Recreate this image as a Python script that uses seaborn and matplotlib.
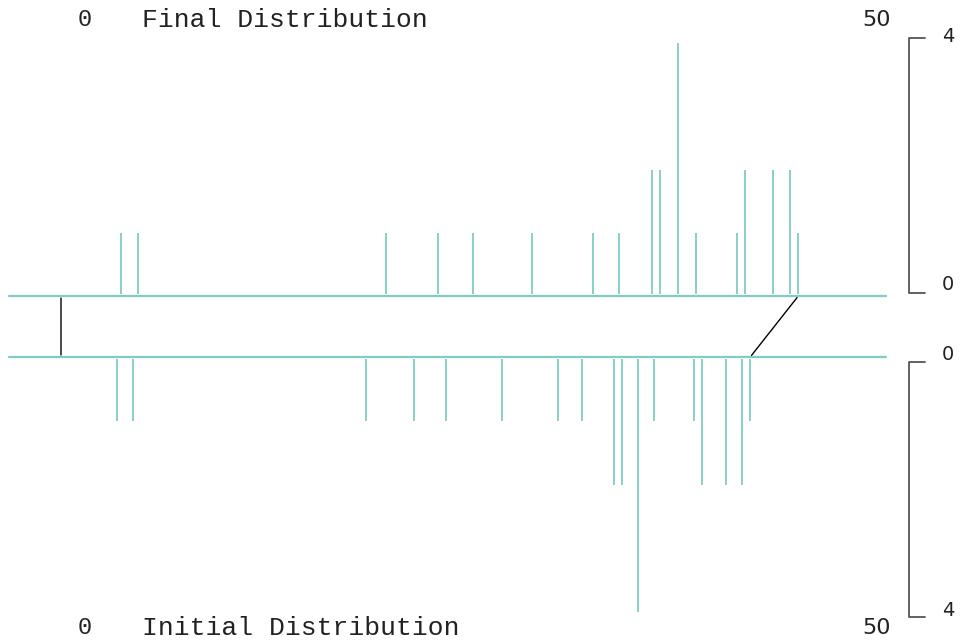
import matplotlib
matplotlib.use("Agg")
import matplotlib.pyplot as plt
from matplotlib.patches import ConnectionPatch
import seaborn as sns
import pandas as pd

# ---- data ----
initial_values = [3.5, 4.5, 19, 22, 24, 27.5, 31, 32.5, 34.5, 35, 36, 37, 39.5, 40, 41.5, 42.5, 43]
initial_counts = [1, 1, 1, 1, 1, 1, 1, 1, 2, 2, 4, 1, 1, 2, 2, 2, 1]
final_values = [3.75, 4.8, 20.3, 23.5, 25.7, 29.4, 33.2, 34.8, 36.9, 37.4, 38.5, 39.6, 42.2, 42.7, 44.4, 45.5, 46]
final_counts = [1, 1, 1, 1, 1, 1, 1, 1, 2, 2, 4, 1, 1, 2, 2, 2, 1]
x_labels = ["0", "50"]
y_labels = ["0", "4"]
titles = ["Final Distribution", "Initial Distribution"]

df_final = pd.DataFrame({"value": final_values, "count": final_counts})
df_init = pd.DataFrame({"value": initial_values, "count": initial_counts})

sns.set_theme(style="white")
plt.rcParams["font.family"] = ["DejaVu Sans"]

TEAL = "#80cbc4"
W, H = 962, 641
fig = plt.figure(figsize=(W / 100, H / 100), dpi=100)

XMIN, XMAX = -3.244, 51.47
left = 9 / W
width = (886 - 9) / W

ax_top = fig.add_axes([left, 1 - 296 / H, width, (296 - 43) / H])
ax_bot = fig.add_axes([left, 1 - 612 / H, width, (612 - 357) / H])

for ax, df, inv in ((ax_top, df_final, False), (ax_bot, df_init, True)):
    ax.set_xlim(XMIN, XMAX)
    if inv:
        ax.set_ylim(4, 0)
    else:
        ax.set_ylim(0, 4)
    ax.vlines(df["value"], 0.03, df["count"], color=TEAL, lw=1.3)
    ax.axhline(0, color=TEAL, lw=1.6, clip_on=False)
    ax.set_axis_off()
    sns.despine(ax=ax, left=True, bottom=True)

# connecting lines (0 -> 0, max -> max)
for xa, xb in ((0, 0), (max(final_values), max(initial_values))):
    con = ConnectionPatch(xyA=(xa, 0), coordsA=ax_top.transData,
                          xyB=(xb, 0), coordsB=ax_bot.transData,
                          color="black", lw=1.0, shrinkA=1.5, shrinkB=1.5)
    fig.add_artist(con)

# overlay for labels and brackets (pixel coordinates)
ov = fig.add_axes([0, 0, 1, 1], facecolor="none")
ov.set_xlim(0, W)
ov.set_ylim(H, 0)
ov.set_axis_off()

mono = ["Liberation Mono", "DejaVu Sans Mono"]
for ty, title in ((20, titles[0]), (628, titles[1])):
    ov.text(85, ty, x_labels[0], family=mono, fontsize=17, ha="center", va="center", color="#222222")
    ov.text(142, ty, title, family=mono, fontsize=19, ha="left", va="center", color="#222222")
    ov.text(877, ty, x_labels[1], family=["DejaVu Sans"], fontsize=16, ha="center", va="center", color="#222222")

GRAY = "#555555"
# top bracket
ov.plot([925, 909, 909, 925], [38, 38, 293, 293], color=GRAY, lw=1.3)
ov.text(948, 36, y_labels[1], fontsize=14, ha="center", va="center", color="#222222")
ov.text(948, 285, y_labels[0], fontsize=14, ha="center", va="center", color="#222222")
# bottom bracket
ov.plot([925, 909, 909, 925], [362, 362, 617, 617], color=GRAY, lw=1.3)
ov.text(948, 355, y_labels[0], fontsize=14, ha="center", va="center", color="#222222")
ov.text(948, 610, y_labels[1], fontsize=14, ha="center", va="center", color="#222222")

fig.savefig("out.png", dpi=100, facecolor="white")
